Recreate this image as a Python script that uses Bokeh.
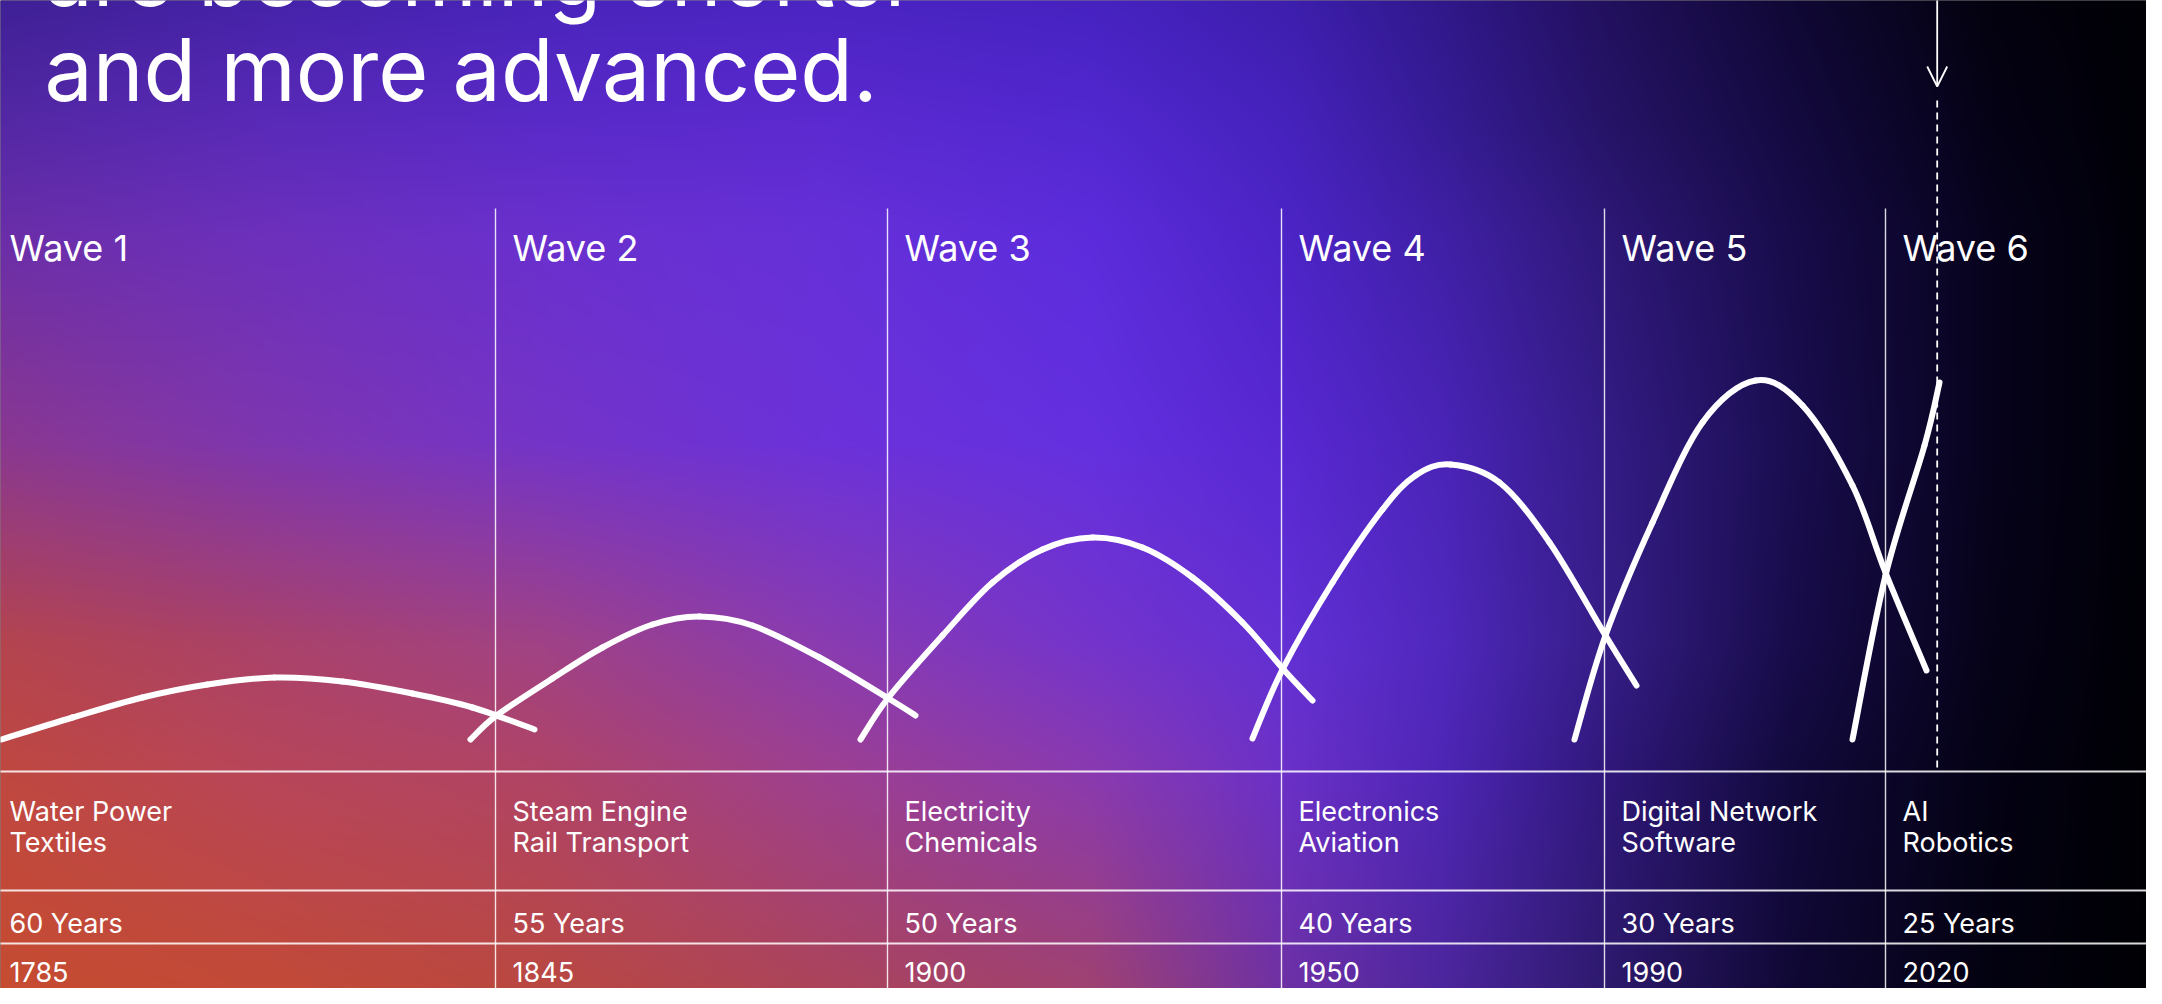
import numpy as np
from bokeh.plotting import figure
from bokeh.models import Range1d, Arrow, OpenHead
from bokeh.core.properties import value
from bokeh.embed import file_html
from bokeh.resources import INLINE

# ---------------- data ----------------
title_lines = ["are becoming shorter", "and more advanced."]
waves = ["Wave 1", "Wave 2", "Wave 3", "Wave 4", "Wave 5", "Wave 6"]
tech_line1 = ["Water Power", "Steam Engine", "Electricity", "Electronics", "Digital Network", "AI"]
tech_line2 = ["Textiles", "Rail Transport", "Chemicals", "Aviation", "Software", "Robotics"]
durations = ["60 Years", "55 Years", "50 Years", "40 Years", "30 Years", "25 Years"]
start_years = ["1785", "1845", "1900", "1950", "1990", "2020"]

# wave curves: horizontal position on the timeline strip, intensity above baseline
wave1_x = [9, 80, 150, 215, 282, 350, 420, 480, 542]
wave1_y = [0, 22, 42, 55, 62, 58, 46, 32, 10]
wave2_x = [478, 504, 560, 610, 660, 707, 760, 827, 896, 923]
wave2_y = [0, 24, 61, 92, 115, 123, 114, 82, 41, 24]
wave3_x = [868, 896, 950, 1000, 1050, 1100, 1150, 1200, 1250, 1291, 1320]
wave3_y = [0, 42, 104, 157, 190, 202, 192, 162, 117, 70, 39]
wave4_x = [1260, 1290, 1340, 1390, 1423, 1458, 1507, 1557, 1613, 1644]
wave4_y = [1, 70, 157, 230, 264, 275, 257, 197, 104, 54]
wave5_x = [1582, 1613, 1660, 1710, 1763, 1810, 1860, 1893, 1934]
wave5_y = [0, 104, 217, 317, 359, 334, 254, 167, 69]
wave6_x = [1860, 1893, 1932, 1947]
wave6_y = [0, 164, 294, 357]
wave_xs = [wave1_x, wave2_x, wave3_x, wave4_x, wave5_x, wave6_x]
wave_ys = [wave1_y, wave2_y, wave3_y, wave4_y, wave5_y, wave6_y]

# ---------------- layout ----------------
W_REF, H_REF = 2162, 1004
BASE = 747                    # pixel row of the curves' baseline
MARGIN = 8                    # page margin
col_left = [0, 503, 895, 1289, 1612, 1893]
today_x = 1944.7
pad = 17

# background colour field (style)
grid_x = [0, 275, 550, 825, 1100, 1300, 1450, 1612, 1800, 2000, 2162]
grid_y = [0, 130, 240, 450, 650, 780, 1004]
grid_c = [
    ["#3E2094", "#4422A8", "#4824BA", "#4A24C2", "#4622C0", "#3C1EAC", "#30188A", "#22105E", "#100834", "#04020E", "#000005"],
    ["#5428A4", "#5A2AB8", "#5A2AC8", "#5C2AD0", "#5228D0", "#4622BC", "#361C96", "#261468", "#140A40", "#050216", "#000005"],
    ["#6A2EA8", "#6C30BC", "#6A30CE", "#6630D8", "#5C2CDC", "#4C24C6", "#4020A6", "#2E1878", "#180C4A", "#07031C", "#000006"],
    ["#8A3890", "#7E36B0", "#7434C8", "#6C32DA", "#6430E0", "#5828D2", "#4A24B8", "#341C86", "#1A0E50", "#07031C", "#000006"],
    ["#B4444E", "#AA426A", "#A04286", "#8A3CB0", "#7434CC", "#6230D4", "#5028BE", "#361E88", "#180C4A", "#060318", "#000005"],
    ["#C04840", "#B8465A", "#B04466", "#9E4090", "#8A3AB0", "#6A30C8", "#4E26B6", "#30187C", "#120A3C", "#040214", "#000004"],
    ["#C64C30", "#C24A36", "#BA4840", "#AC4458", "#A04270", "#6C30A4", "#4C269C", "#2E1A6E", "#100834", "#030210", "#000004"],
]


def hex2rgb(h):
    h = h.lstrip("#")
    return [int(h[i:i + 2], 16) for i in (0, 2, 4)]


def lin_w(g, pnts):
    g = np.asarray(g, float)
    i = np.clip(np.searchsorted(g, pnts, side="right") - 1, 0, len(g) - 2)
    t = np.clip((pnts - g[i]) / (g[i + 1] - g[i]), 0, 1)
    return i, t


def background(nw=1081, nh=502):
    cols = np.array([[hex2rgb(c) for c in row] for row in grid_c], float)
    px = np.linspace(0, W_REF, nw)
    py = np.linspace(0, H_REF, nh)
    ix, tx = lin_w(grid_x, px)
    rows = cols[:, ix, :] * (1 - tx)[None, :, None] + cols[:, ix + 1, :] * tx[None, :, None]
    iy, ty = lin_w(grid_y, py)
    out = rows[iy] * (1 - ty)[:, None, None] + rows[iy + 1] * ty[:, None, None]
    out = out[::-1]  # row 0 at the bottom
    rgba = np.empty((nh, nw, 4), dtype=np.uint8)
    rgba[..., :3] = np.clip(out, 0, 255).astype(np.uint8)
    rgba[..., 3] = 255
    return rgba.view(dtype=np.uint32).reshape((nh, nw))


def smooth_segments(xs, ys):
    """Catmull-Rom through the read points, expressed as cubic Bezier segments."""
    x = np.asarray(xs, float)
    y = np.asarray(ys, float)
    xp = np.concatenate([[x[0]], x, [x[-1]]])
    yp = np.concatenate([[y[0]], y, [y[-1]]])
    n = len(x) - 1
    seg = dict(x0=[], y0=[], x1=[], y1=[], cx0=[], cy0=[], cx1=[], cy1=[])
    for i in range(n):
        a, b, c, d = i, i + 1, i + 2, i + 3
        seg["x0"].append(xp[b]); seg["y0"].append(yp[b])
        seg["x1"].append(xp[c]); seg["y1"].append(yp[c])
        seg["cx0"].append(xp[b] + (xp[c] - xp[a]) / 6); seg["cy0"].append(yp[b] + (yp[c] - yp[a]) / 6)
        seg["cx1"].append(xp[c] - (xp[d] - xp[b]) / 6); seg["cy1"].append(yp[c] - (yp[d] - yp[b]) / 6)
    return seg


FIG_W, FIG_H = W_REF - 2 * MARGIN, H_REF - 2 * MARGIN
p = figure(width=FIG_W, height=FIG_H,
           x_range=Range1d(MARGIN, MARGIN + FIG_W),
           y_range=Range1d(BASE - (MARGIN + FIG_H), BASE - MARGIN),
           x_axis_type=None, y_axis_type=None, toolbar_location=None, output_backend="svg",
           min_border=0, background_fill_color="black", border_fill_color="black",
           outline_line_color=None)
p.grid.visible = False

p.image_rgba(image=[background()], x=0, y=BASE - H_REF, dw=W_REF, dh=H_REF)

FONT = value("Inter")

# title (partially above the top edge, as in the reference)
p.text(x=[52, 52], y=[BASE - 7 + 25, BASE - 102 + 25], text=title_lines, text_font=FONT,
       text_font_size="86px", text_color="white", text_baseline="alphabetic", text_align="left")

# column separators and table rules
p.segment(x0=col_left[1:], y0=BASE - 216, x1=col_left[1:], y1=BASE - H_REF, line_color="white",
          line_alpha=0.85, line_width=1.4)
rules = [BASE - 779, BASE - 898, BASE - 951]
p.segment(x0=0, y0=rules, x1=W_REF, y1=rules, line_color="white", line_alpha=0.85, line_width=1.8)

# today marker
p.segment(x0=today_x, y0=BASE - 108, x1=today_x, y1=BASE - 779, line_color="white",
          line_width=1.8, line_dash="7 5")
p.add_layout(Arrow(end=OpenHead(size=20, line_color="white", line_width=1.8),
                   x_start=today_x, y_start=BASE - 7, x_end=today_x, y_end=BASE - 94,
                   line_color="white", line_width=1.8))

# waves
for xs, ys in zip(wave_xs, wave_ys):
    s = smooth_segments(xs, ys)
    p.bezier(line_color="white", line_width=6, line_cap="round", **s)

# labels
lx = [c + pad for c in col_left]
p.text(x=lx, y=BASE - 259 + 4, text=waves, text_font=FONT, text_font_size="36px",
       text_color="white", text_baseline="alphabetic")
tfont = "27px"
p.text(x=lx, y=BASE - 821 + 2, text=tech_line1, text_font=FONT, text_font_size=tfont,
       text_color="white", text_baseline="alphabetic")
p.text(x=lx, y=BASE - 852 + 2, text=tech_line2, text_font=FONT, text_font_size=tfont,
       text_color="white", text_baseline="alphabetic")
p.text(x=lx, y=BASE - 933 + 2, text=durations, text_font=FONT, text_font_size=tfont,
       text_color="white", text_baseline="alphabetic")
p.text(x=lx, y=BASE - 981 + 2, text=start_years, text_font=FONT, text_font_size=tfont,
       text_color="white", text_baseline="alphabetic")

open("out.html", "w").write(file_html(p, INLINE))
